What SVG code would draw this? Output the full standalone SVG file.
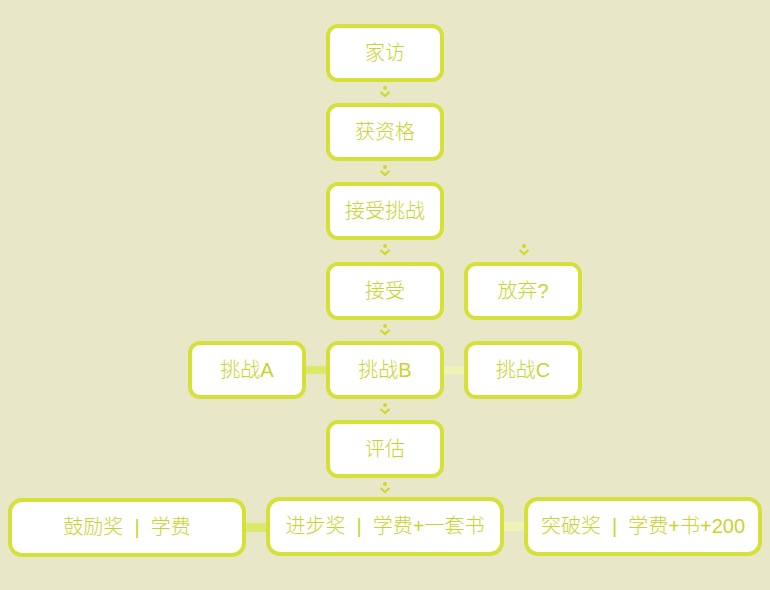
<svg xmlns="http://www.w3.org/2000/svg" width="770" height="590" viewBox="0 0 770 590">
<style>
.box{fill:#ffffff;stroke:#d5e03a;stroke-width:4}
.t{font-family:"Liberation Sans","Noto Sans CJK SC",sans-serif;font-size:20px;font-weight:300;fill:#c8d32e;text-anchor:middle;dominant-baseline:central}
.chev{fill:none;stroke:#cdd82f;stroke-width:2.2}
.dot{fill:#cdd82f}
</style>
<defs>
<g id="arr"><circle class="dot" cx="0" cy="0" r="2"/><path class="chev" d="M-4.5,4 L0,8 L4.5,4"/></g>
</defs>
<rect width="770" height="590" fill="#e8e8c8"/>
<g id="connectors">
<use href="#arr" x="385" y="88"/>
<use href="#arr" x="385" y="167"/>
<use href="#arr" x="385" y="246"/>
<use href="#arr" x="524" y="246"/>
<use href="#arr" x="385" y="326"/>
<use href="#arr" x="385" y="405"/>
<use href="#arr" x="385" y="484"/>
<rect x="304" y="366" width="24" height="8" fill="#dce86a"/>
<rect x="442" y="366" width="24" height="8" fill="#eef4b8"/>
<rect x="244" y="523" width="26" height="9" fill="#dce86a"/>
<rect x="502" y="522" width="26" height="9" fill="#eef4b8"/>
</g>
<g id="n1"><rect class="box" x="328" y="26" width="114" height="54" rx="10"/><text class="t" x="385" y="53">家访</text></g>
<g id="n2"><rect class="box" x="328" y="105" width="114" height="54" rx="10"/><text class="t" x="385" y="132">获资格</text></g>
<g id="n3"><rect class="box" x="328" y="184" width="114" height="54" rx="10"/><text class="t" x="385" y="211">接受挑战</text></g>
<g id="n4"><rect class="box" x="328" y="264" width="114" height="54" rx="10"/><text class="t" x="385" y="291">接受</text></g>
<g id="n5"><rect class="box" x="466" y="264" width="114" height="54" rx="10"/><text class="t" x="523" y="291">放弃?</text></g>
<g id="n6"><rect class="box" x="190" y="343" width="114" height="54" rx="10"/><text class="t" x="247" y="370">挑战A</text></g>
<g id="n7"><rect class="box" x="328" y="343" width="114" height="54" rx="10"/><text class="t" x="385" y="370">挑战B</text></g>
<g id="n8"><rect class="box" x="466" y="343" width="114" height="54" rx="10"/><text class="t" x="523" y="370">挑战C</text></g>
<g id="n9"><rect class="box" x="328" y="422" width="114" height="54" rx="10"/><text class="t" x="385" y="449">评估</text></g>
<g id="n10"><rect class="box" x="10" y="500" width="234" height="55" rx="12"/><text class="t" x="127" y="527" xml:space="preserve">鼓励奖  |  学费</text></g>
<g id="n11"><rect class="box" x="268" y="499" width="234" height="55" rx="12"/><text class="t" x="385" y="526" xml:space="preserve">进步奖  |  学费+一套书</text></g>
<g id="n12"><rect class="box" x="526" y="499" width="234" height="55" rx="12"/><text class="t" x="643" y="526" xml:space="preserve">突破奖  |  学费+书+200</text></g>
</svg>
